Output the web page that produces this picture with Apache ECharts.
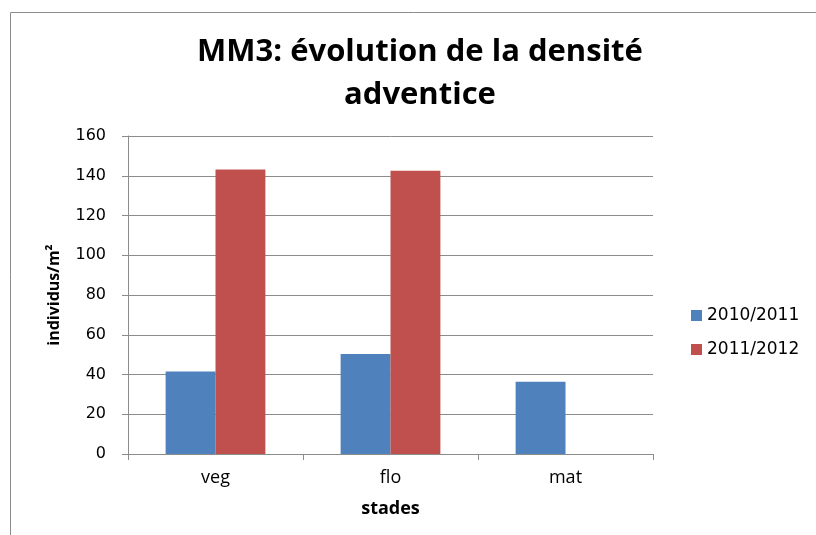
<!DOCTYPE html>
<html>
<head>
<meta charset="utf-8">
<script src="https://cdn.jsdelivr.net/npm/echarts@6/dist/echarts.min.js"></script>
<style>
  html, body { margin: 0; padding: 0; background: #fff; }
  #chart { width: 816px; height: 535px; }
</style>
</head>
<body>
<div id="chart"></div>
<script>
// stades de culture
const categories = ['veg', 'flo', 'mat']
const serie2010 = [41.5, 50.3, 36.3]
const serie2011 = [143.2, 142.5, null]

let myChart = echarts.init(document.getElementById('chart'))
myChart.setOption({
    animation: false,
    // cadre de la zone graphique
    graphic: [
        {
            type: 'rect',
            shape: { x: 10.5, y: 12.5, width: 820, height: 540 },
            style: { fill: 'none', stroke: '#8c8c8c', lineWidth: 1 },
            silent: true
        }
    ],
    title: {
        text: 'MM3: évolution de la densité\nadventice',
        left: 415,
        textAlign: 'center',
        top: 26,
        textStyle: {
            fontFamily: 'Open Sans',
            fontWeight: 'bold',
            fontSize: 31,
            lineHeight: 43,
            color: '#000'
        }
    },
    legend: {
        orient: 'vertical',
        left: 686,
        top: 302,
        itemWidth: 11,
        itemHeight: 11,
        itemGap: 17,
        icon: 'rect',
        textStyle: { fontFamily: 'DejaVu Sans', fontSize: 17, color: '#000' },
        data: ['2010/2011', '2011/2012']
    },
    grid: {
        left: 128,
        right: 163,
        top: 136,
        bottom: 81
    },
    xAxis: {
        type: 'category',
        data: categories,
        name: 'stades',
        nameLocation: 'middle',
        nameGap: 46,
        nameTextStyle: { fontFamily: 'Open Sans', fontWeight: 'bold', fontSize: 18, color: '#000' },
        axisLine: { lineStyle: { color: '#8c8c8c', width: 1 } },
        axisTick: { show: true, length: 6, lineStyle: { color: '#8c8c8c' } },
        axisLabel: { fontFamily: 'Open Sans', fontSize: 18, color: '#000', margin: 15 }
    },
    yAxis: {
        type: 'value',
        min: 0,
        max: 160,
        interval: 20,
        name: 'individus/m²',
        nameLocation: 'middle',
        nameGap: 66,
        nameTextStyle: { fontFamily: 'Open Sans', fontWeight: 'bold', fontSize: 16, color: '#000' },
        axisLine: { show: true, lineStyle: { color: '#8c8c8c', width: 1 } },
        axisTick: { show: true, length: 6, lineStyle: { color: '#8c8c8c' } },
        axisLabel: { fontFamily: 'DejaVu Sans', fontSize: 16, color: '#000', margin: 22 },
        splitLine: { lineStyle: { color: '#8c8c8c', width: 1 } }
    },
    series: [
        {
            name: '2010/2011',
            type: 'bar',
            data: serie2010,
            barGap: '0%',
            barCategoryGap: '43%',
            itemStyle: { color: '#4f81bd' }
        },
        {
            name: '2011/2012',
            type: 'bar',
            data: serie2011,
            itemStyle: { color: '#c0504d' }
        }
    ]
})
</script>
</body>
</html>
